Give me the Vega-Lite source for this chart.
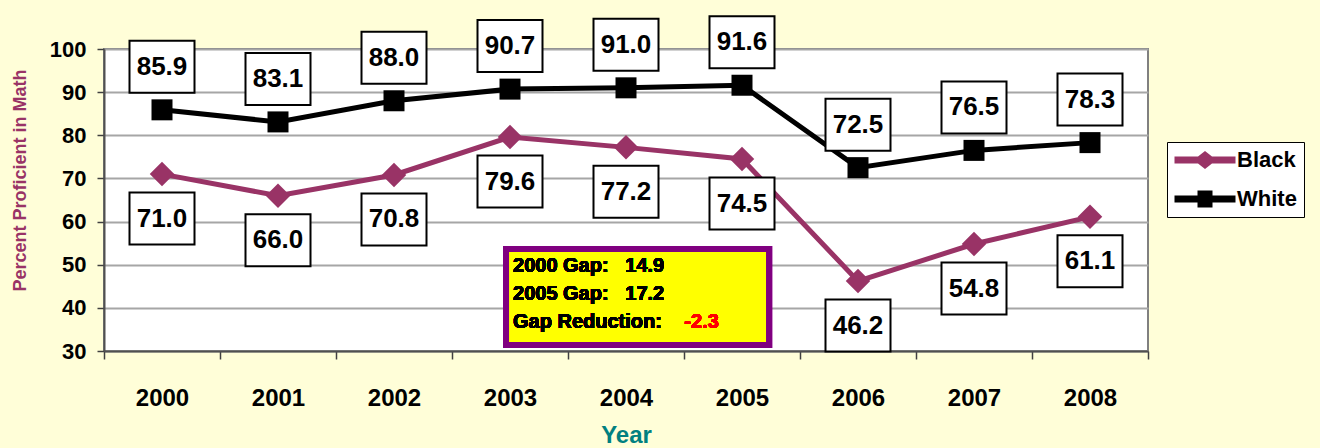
{
  "$schema": "https://vega.github.io/schema/vega-lite/v6.json",
  "width": 1044,
  "height": 302,
  "autosize": {"type": "none"},
  "padding": {"left": 104, "top": 49, "right": 172, "bottom": 97},
  "background": "#fffed8",
  "config": {
    "font": "Liberation Sans",
    "view": {"fill": "#ffffff", "stroke": "#808080", "strokeWidth": 2},
    "axis": {"labelFont": "Liberation Sans", "titleFont": "Liberation Sans"}
  },
  "data": {
    "values": [
      {"year": 2000, "group": "White", "pct": 85.9},
      {"year": 2001, "group": "White", "pct": 83.1},
      {"year": 2002, "group": "White", "pct": 88.0},
      {"year": 2003, "group": "White", "pct": 90.7},
      {"year": 2004, "group": "White", "pct": 91.0},
      {"year": 2005, "group": "White", "pct": 91.6},
      {"year": 2006, "group": "White", "pct": 72.5},
      {"year": 2007, "group": "White", "pct": 76.5},
      {"year": 2008, "group": "White", "pct": 78.3},
      {"year": 2000, "group": "Black", "pct": 71.0},
      {"year": 2001, "group": "Black", "pct": 66.0},
      {"year": 2002, "group": "Black", "pct": 70.8},
      {"year": 2003, "group": "Black", "pct": 79.6},
      {"year": 2004, "group": "Black", "pct": 77.2},
      {"year": 2005, "group": "Black", "pct": 74.5},
      {"year": 2006, "group": "Black", "pct": 46.2},
      {"year": 2007, "group": "Black", "pct": 54.8},
      {"year": 2008, "group": "Black", "pct": 61.1}
    ]
  },
  "layer": [
    {
      "mark": {"type": "line", "strokeWidth": 5},
      "encoding": {
        "x": {
          "field": "year", "type": "quantitative",
          "scale": {"domain": [1999.5, 2008.5], "nice": false, "zero": false},
          "axis": {
            "values": [1999.5, 2000, 2000.5, 2001, 2001.5, 2002, 2002.5, 2003, 2003.5, 2004, 2004.5, 2005, 2005.5, 2006, 2006.5, 2007, 2007.5, 2008, 2008.5],
            "labelExpr": "datum.value % 1 === 0 ? format(datum.value, 'd') : ''",
            "labelOverlap": false,
            "labelFlush": false,
            "labelFont": "Liberation Sans",
            "labelFontSize": 24,
            "labelFontWeight": "bold",
            "labelColor": "#000000",
            "labelPadding": 27,
            "labelBaseline": "top",
            "tickSize": 8,
            "tickWidth": 1.5,
            "tickColor": "#404040",
            "tickOpacity": {"condition": {"test": "datum.value % 1 === 0", "value": 0}, "value": 1},
            "domainColor": "#505050",
            "domainWidth": 2,
            "grid": false,
            "title": "Year",
            "titleFont": "Liberation Sans",
            "titleFontSize": 24,
            "titleFontWeight": "bold",
            "titleColor": "#008080",
            "titlePadding": 13
          }
        },
        "y": {
          "field": "pct", "type": "quantitative",
          "scale": {"domain": [30, 100], "nice": false, "zero": false},
          "axis": {
            "values": [30, 40, 50, 60, 70, 80, 90, 100],
            "labelFont": "Liberation Sans",
            "labelFontSize": 22,
            "labelFontWeight": "bold",
            "labelColor": "#000000",
            "labelPadding": 11,
            "tickSize": 7,
            "tickWidth": 1.5,
            "tickColor": "#404040",
            "domainColor": "#505050",
            "domainWidth": 2,
            "grid": true,
            "gridColor": "#a6a6a6",
            "gridWidth": 2,
            "title": "Percent Proficient in Math",
            "titleFont": "Liberation Sans",
            "titleFontSize": 18,
            "titleFontWeight": "bold",
            "titleColor": "#993366",
            "titleX": -84,
            "titleY": 131,
            "titleAngle": -90,
            "titleAlign": "center",
            "titleBaseline": "middle"
          }
        },
        "color": {
          "field": "group", "type": "nominal",
          "scale": {"domain": ["Black", "White"], "range": ["#993366", "#000000"]},
          "legend": {
            "orient": "none",
            "legendX": 1063,
            "legendY": 93,
            "title": null,
            "fillColor": "#ffffff",
            "strokeColor": "#000000",
            "padding": 7,
            "rowPadding": 17,
            "symbolSize": 400,
            "symbolOffset": 20,
            "labelOffset": 21,
            "labelFont": "Liberation Sans",
            "labelFontSize": 22,
            "labelFontWeight": "bold",
            "labelColor": "#000000",
            "encode": {
              "symbols": {
                "update": {
                  "shape": {"signal": "datum.value === 'Black' ? 'M-3.05,-0.35L-0.7,-0.35L0,-0.9L0.7,-0.35L3.05,-0.35L3.05,0.35L0.7,0.35L0,0.9L-0.7,0.35L-3.05,0.35Z' : 'M-3.05,-0.35L-0.75,-0.35L-0.75,-0.85L0.75,-0.85L0.75,-0.35L3.05,-0.35L3.05,0.35L0.75,0.35L0.75,0.85L-0.75,0.85L-0.75,0.35L-3.05,0.35Z'"},
                  "fill": {"signal": "datum.value === 'Black' ? '#993366' : '#000000'"},
                  "fillOpacity": {"value": 1},
                  "strokeWidth": {"value": 0}
                }
              }
            }
          }
        }
      }
    },
    {
      "transform": [{"filter": "datum.group === 'Black'"}],
      "mark": {"type": "point", "shape": "diamond", "size": 600, "filled": true, "opacity": 1},
      "encoding": {
        "x": {"field": "year", "type": "quantitative"},
        "y": {"field": "pct", "type": "quantitative"},
        "color": {"field": "group", "type": "nominal"}
      }
    },
    {
      "transform": [{"filter": "datum.group === 'White'"}],
      "mark": {"type": "point", "shape": "square", "size": 441, "filled": true, "opacity": 1},
      "encoding": {
        "x": {"field": "year", "type": "quantitative"},
        "y": {"field": "pct", "type": "quantitative"},
        "color": {"field": "group", "type": "nominal"}
      }
    },
    {
      "transform": [{"filter": "datum.group === 'White'"}],
      "mark": {"type": "point", "shape": "M-32.5,-69H32.5V-17H-32.5Z", "size": 4, "filled": true, "fill": "#ffffff", "stroke": "#000000", "strokeWidth": 2, "opacity": 1},
      "encoding": {
        "x": {"field": "year", "type": "quantitative"},
        "y": {"field": "pct", "type": "quantitative"}
      }
    },
    {
      "transform": [{"filter": "datum.group === 'Black'"}],
      "mark": {"type": "point", "shape": "M-32.5,18.5H32.5V70.5H-32.5Z", "size": 4, "filled": true, "fill": "#ffffff", "stroke": "#000000", "strokeWidth": 2, "opacity": 1},
      "encoding": {
        "x": {"field": "year", "type": "quantitative"},
        "y": {"field": "pct", "type": "quantitative"}
      }
    },
    {
      "transform": [{"filter": "datum.group === 'White'"}],
      "mark": {"type": "text", "dy": -43, "baseline": "middle", "font": "Liberation Sans", "fontSize": 26, "fontWeight": "bold", "color": "#000000"},
      "encoding": {
        "x": {"field": "year", "type": "quantitative"},
        "y": {"field": "pct", "type": "quantitative"},
        "text": {"field": "pct", "type": "quantitative", "format": ".1f"}
      }
    },
    {
      "transform": [{"filter": "datum.group === 'Black'"}],
      "mark": {"type": "text", "dy": 44.5, "baseline": "middle", "font": "Liberation Sans", "fontSize": 26, "fontWeight": "bold", "color": "#000000"},
      "encoding": {
        "x": {"field": "year", "type": "quantitative"},
        "y": {"field": "pct", "type": "quantitative"},
        "text": {"field": "pct", "type": "quantitative", "format": ".1f"}
      }
    },
    {
      "mark": {"type": "rect", "fill": "#ffff00", "stroke": "#800080", "strokeWidth": 6},
      "encoding": {
        "x": {"datum": 2002.966, "type": "quantitative"},
        "x2": {"datum": 2005.233},
        "y": {"datum": 53.64, "type": "quantitative"},
        "y2": {"datum": 31.39}
      }
    },
    {
      "mark": {"type": "text", "align": "left", "baseline": "alphabetic", "font": "Liberation Sans", "fontSize": 20, "fontWeight": "bold", "color": "#000000", "text": "2000 Gap:\u00a0\u00a0 14.9"},
      "encoding": {
        "x": {"datum": 2003.026, "type": "quantitative"},
        "y": {"datum": 48.31, "type": "quantitative"}
      }
    },
    {
      "mark": {"type": "text", "align": "left", "baseline": "alphabetic", "font": "Liberation Sans", "fontSize": 20, "fontWeight": "bold", "color": "#000000", "text": "2005 Gap:\u00a0\u00a0 17.2"},
      "encoding": {
        "x": {"datum": 2003.026, "type": "quantitative"},
        "y": {"datum": 41.82, "type": "quantitative"}
      }
    },
    {
      "mark": {"type": "text", "align": "left", "baseline": "alphabetic", "font": "Liberation Sans", "fontSize": 20, "fontWeight": "bold", "color": "#000000", "text": "Gap Reduction:"},
      "encoding": {
        "x": {"datum": 2003.026, "type": "quantitative"},
        "y": {"datum": 35.33, "type": "quantitative"}
      }
    },
    {
      "mark": {"type": "text", "align": "left", "baseline": "alphabetic", "font": "Liberation Sans", "fontSize": 20, "fontWeight": "bold", "color": "#ff0000", "text": "-2.3"},
      "encoding": {
        "x": {"datum": 2004.503, "type": "quantitative"},
        "y": {"datum": 35.33, "type": "quantitative"}
      }
    }
  ]
}
